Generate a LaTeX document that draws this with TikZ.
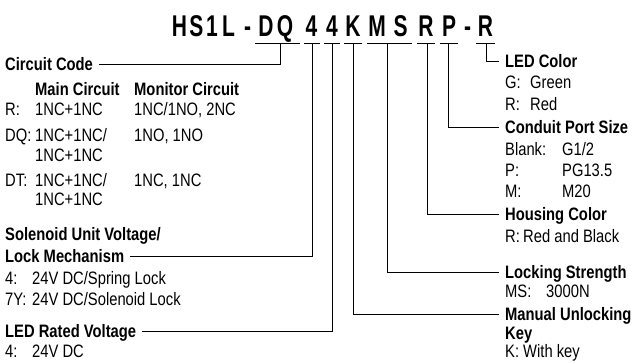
\documentclass[tikz,border=0pt]{standalone}
\usepackage{fontspec}
\setmainfont[FakeStretch=0.82]{Liberation Sans}
\newfontfamily\partfont[FakeStretch=0.7]{Liberation Sans}
\newcommand{\optcol}[2]{\makebox[#1pt][l]{#2}}

\begin{document}
\begin{tikzpicture}[
        x=1pt, y=-1pt,
        item/.style={anchor=base west, inner xsep=6pt, inner ysep=0pt, text height=11pt, text depth=0pt, font=\fontsize{18}{22}\selectfont},
        head/.style={item, font=\fontsize{18}{22}\selectfont\bfseries},
        letter/.style={anchor=base, inner sep=0pt, font=\partfont\fontsize{30}{30}\selectfont\bfseries},
        line/.style={line width=0.9pt},
        lead/.style={line}
    ]
        \useasboundingbox (0,0) rectangle (635,362);

        \foreach \ch/\x [count=\i] in {H/179.5, S/196.5, 1/212, L/228.5, -/247.5, D/266, Q/285, 4/311.5, 4/332, K/353, M/377, S/400.5, R/426, P/449, -/467.5, R/485.5}
            \node[letter] (c\i) at (\x,36.5) {\ch};

        \foreach \nm/\a/\b/\t in {dq/255/300/280, sv/304/320/312, lv/324/340/332, key/344/362/353, ms/367/412/387, hc/417/435/427, cp/440/458/448, lc/476/495/486} {
            \draw[line] (\a,43) -- (\b,43);
            \coordinate (t\nm) at (\t,43);
        }

        \node[head] (circ) at (-1,70) {Circuit Code};
        \node[head] (cols) at (29,95) {\optcol{99}{Main Circuit}Monitor Circuit};
        \node[item] (rowR) at (-1,115) {\optcol{30}{R:}\optcol{99}{1NC+1NC}1NC/1NO, 2NC};
        \node[item] (rowDQ) at (-1,141.5) {\optcol{30}{DQ:}\optcol{99}{1NC+1NC/}1NO, 1NO};
        \node[item] (rowDQb) at (29,161) {1NC+1NC};
        \node[item] (rowDT) at (-1,186.5) {\optcol{30}{DT:}\optcol{99}{1NC+1NC/}1NC, 1NC};
        \node[item] (rowDTb) at (29,205.5) {1NC+1NC};
        \node[head] (sol) at (-1,240) {Solenoid Unit Voltage/};
        \node[head] (lock) at (-1,262) {Lock Mechanism};
        \node[item] (sv4) at (-1,284) {\optcol{27}{4:}24V DC/Spring Lock};
        \node[item] (sv7) at (-1,305) {\optcol{27}{7Y:}24V DC/Solenoid Lock};
        \node[head] (ledv) at (-1,337) {LED Rated Voltage};
        \node[item] (lv4) at (-1,357) {\optcol{27}{4:}24V DC};

        \node[head] (ledc) at (499,67) {LED Color};
        \node[item] (ledg) at (499,88) {\optcol{25}{G:}Green};
        \node[item] (ledr) at (499,110) {\optcol{25}{R:}Red};
        \node[head] (port) at (499,133) {Conduit Port Size};
        \node[item] (portb) at (499,155) {\optcol{57}{Blank:}G1/2};
        \node[item] (portp) at (499,176) {\optcol{57}{P:}PG13.5};
        \node[item] (portm) at (499,197) {\optcol{57}{M:}M20};
        \node[head] (house) at (499,220) {Housing Color};
        \node[item] (houser) at (499,242) {\optcol{18}{R:}Red and Black};
        \node[head] (strength) at (499,278) {Locking Strength};
        \node[item] (strms) at (499,297) {\optcol{41}{MS:}3000N};
        \node[head] (manual) at (499,320) {Manual Unlocking};
        \node[head] (manualk) at (499,339.5) {Key};
        \node[item] (manualw) at (499,357.5) {\optcol{18}{K:}With key};

        \draw[lead] (tdq) |- (circ.east);
        \draw[lead] (tsv) |- (lock.east);
        \draw[lead] (tlv) |- (ledv.east);
        \draw[lead] (tkey) |- (manual.west);
        \draw[lead] (tms) |- (strength.west);
        \draw[lead] (thc) |- (house.west);
        \draw[lead] (tcp) |- (port.west);
        \draw[lead] (tlc) |- (ledc.west);
    \end{tikzpicture}
\end{document}
